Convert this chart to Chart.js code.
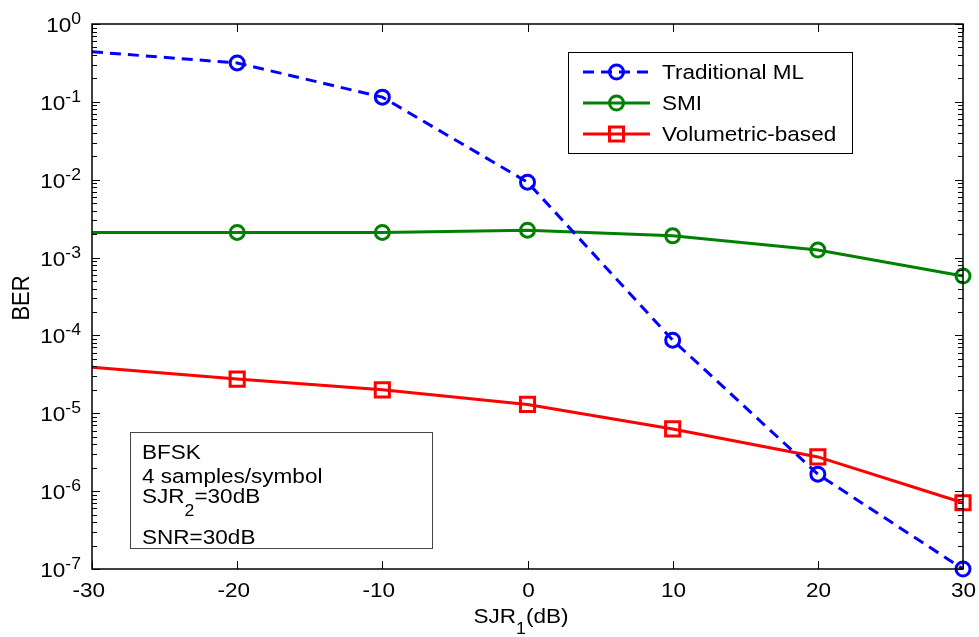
<!DOCTYPE html>
<html>
<head>
<meta charset="utf-8">
<script src="https://cdn.jsdelivr.net/npm/chart.js@4/dist/chart.umd.min.js"></script>
<style>
  html, body { margin: 0; padding: 0; background: #fff; }
  #wrap { width: 979px; height: 637px; }
</style>
</head>
<body>
<div id="wrap"><canvas id="berChart" width="979" height="637"></canvas></div>
<script>
// ============================
// Data
// ============================
const sjrValues = [-30, -20, -10, 0, 10, 20, 30];
const traditionalML = [0.44, 0.316, 0.115, 0.0093, 8.7e-5, 1.65e-6, 1.0e-7];
const smiBER = [2.1e-3, 2.1e-3, 2.1e-3, 2.25e-3, 1.9e-3, 1.25e-3, 5.8e-4];
const volumetricBER = [3.9e-5, 2.75e-5, 2.0e-5, 1.3e-5, 6.3e-6, 2.75e-6, 7.1e-7];

const seriesLabels = ["Traditional ML", "SMI", "Volumetric-based"];
const xTicks = [-30, -20, -10, 0, 10, 20, 30];
const yExponents = [0, -1, -2, -3, -4, -5, -6, -7];
const noteLines = ["BFSK", "4 samples/symbol", "SJR|2|=30dB", "SNR=30dB"];

// text in the source image is stretched horizontally
const SX = 1.1;
const FS = 20.5;
const FS_SMALL = 16;
const FONT = '"Liberation Sans", Arial, sans-serif';
const markerRadius = [0, 7, 7, 7, 7, 7, 7];
const squareRadius = [0, 10, 10, 10, 10, 10, 10];

const toPoints = vals => vals.map((v, i) => ({ x: sjrValues[i], y: v }));

// ============================
// Stretched text helpers
// ============================
function richWidth(ctx, segs) {
  let w = 0;
  segs.forEach(s => {
    ctx.font = `${s.size}px ${FONT}`;
    w += ctx.measureText(s.t).width * SX;
  });
  return w;
}

function drawRich(ctx, segs, x, y, align) {
  const total = richWidth(ctx, segs);
  let left = x;
  if (align === "center") left = x - total / 2;
  if (align === "right") left = x - total;
  segs.forEach(s => {
    ctx.font = `${s.size}px ${FONT}`;
    const w = ctx.measureText(s.t).width * SX;
    ctx.save();
    ctx.translate(left, y + (s.dy || 0));
    ctx.scale(SX, 1);
    ctx.textAlign = "left";
    ctx.textBaseline = "alphabetic";
    ctx.fillStyle = "#000";
    ctx.fillText(s.t, 0, 0);
    ctx.restore();
    left += w;
  });
}

// "A|b|C" -> A, subscript b, C
function parseSub(str, size, subSize, subDy) {
  return str.split("|").map((t, i) =>
    i % 2 === 1 ? { t, size: subSize, dy: subDy } : { t, size });
}

// ============================
// Axes, ticks, legend, note box
// ============================
const matlabAxes = {
  id: "matlabAxes",
  afterDraw(chart) {
    const { ctx, chartArea: a, scales } = chart;
    const xs = scales.x, ys = scales.y;
    ctx.save();

    // frame
    ctx.strokeStyle = "#000";
    ctx.lineWidth = 1.5;
    ctx.strokeRect(a.left, a.top, a.right - a.left, a.bottom - a.top);

    // x ticks (inside, bottom and top)
    ctx.lineWidth = 1;
    xTicks.forEach(v => {
      const px = Math.round(xs.getPixelForValue(v)) + 0.5;
      ctx.beginPath();
      ctx.moveTo(px, a.bottom); ctx.lineTo(px, a.bottom - 8);
      ctx.moveTo(px, a.top); ctx.lineTo(px, a.top + 8);
      ctx.stroke();
      let cx = px;
      if (v < 0) {
        ctx.font = `${FS}px ${FONT}`;
        cx -= ctx.measureText("-").width * SX / 2;
      }
      drawRich(ctx, [{ t: String(v), size: FS }], cx, 597, "center");
    });

    // y ticks: major and minor, both sides
    yExponents.forEach(e => {
      const py = Math.round(ys.getPixelForValue(Math.pow(10, e))) + 0.5;
      ctx.beginPath();
      ctx.moveTo(a.left, py); ctx.lineTo(a.left + 8, py);
      ctx.moveTo(a.right, py); ctx.lineTo(a.right - 8, py);
      ctx.stroke();
      drawRich(ctx, [{ t: "10", size: FS }, { t: String(e), size: FS_SMALL, dy: -8 }],
        81, py + 7, "right");
      if (e > -7) {
        for (let m = 2; m <= 9; m++) {
          const pm = Math.round(ys.getPixelForValue(m * Math.pow(10, e - 1))) + 0.5;
          ctx.beginPath();
          ctx.moveTo(a.left, pm); ctx.lineTo(a.left + 5, pm);
          ctx.moveTo(a.right, pm); ctx.lineTo(a.right - 5, pm);
          ctx.stroke();
        }
      }
    });

    // axis titles
    drawRich(ctx, parseSub("SJR|1|(dB)", FS, FS_SMALL, 11), 521, 623, "center");
    ctx.save();
    ctx.translate(29, 298);
    ctx.rotate(-Math.PI / 2);
    ctx.scale(1, SX);
    ctx.font = `22px ${FONT}`;
    ctx.textAlign = "center";
    ctx.textBaseline = "alphabetic";
    ctx.fillStyle = "#000";
    ctx.fillText("BER", 0, 0);
    ctx.restore();

    // legend
    ctx.fillStyle = "#fff";
    ctx.fillRect(568, 52, 284, 101);
    ctx.strokeStyle = "#000";
    ctx.lineWidth = 1;
    ctx.strokeRect(568.5, 52.5, 284, 101);
    chart.data.datasets.forEach((ds, i) => {
      const cy = 72 + i * 31;
      ctx.save();
      ctx.strokeStyle = ds.borderColor;
      ctx.lineWidth = 3;
      ctx.setLineDash(ds.borderDash || []);
      ctx.beginPath();
      ctx.moveTo(583, cy); ctx.lineTo(650, cy);
      ctx.stroke();
      ctx.setLineDash([]);
      ctx.lineWidth = 3;
      ctx.beginPath();
      if (ds.pointStyle === "rect") {
        ctx.rect(616.5 - 7, cy - 7, 14, 14);
      } else {
        ctx.arc(616.5, cy, 7, 0, Math.PI * 2);
      }
      ctx.stroke();
      ctx.restore();
      drawRich(ctx, [{ t: seriesLabels[i], size: FS }], 662, cy + 7, "left");
    });

    // note box
    ctx.fillStyle = "#fff";
    ctx.fillRect(130, 432, 302, 116);
    ctx.strokeStyle = "#444";
    ctx.strokeRect(130.5, 432.5, 302, 116);
    const baselines = [459, 483, 503, 544];
    noteLines.forEach((line, i) => {
      drawRich(ctx, parseSub(line, FS, FS_SMALL, 13), 142, baselines[i], "left");
    });

    ctx.restore();
  }
};

// ============================
// Chart
// ============================
const ctx = document.getElementById("berChart").getContext("2d");

new Chart(ctx, {
  type: "line",
  data: {
    datasets: [
      {
        label: seriesLabels[0],
        data: toPoints(traditionalML),
        borderColor: "#0000FF",
        borderWidth: 3,
        borderDash: [11, 7],
        pointStyle: "circle",
        pointRadius: markerRadius,
        pointBorderWidth: 3,
        pointBackgroundColor: "rgba(0,0,0,0)",
        pointBorderColor: "#0000FF",
        tension: 0,
        fill: false,
        clip: false
      },
      {
        label: seriesLabels[1],
        data: toPoints(smiBER),
        borderColor: "#008000",
        borderWidth: 3,
        pointStyle: "circle",
        pointRadius: markerRadius,
        pointBorderWidth: 3,
        pointBackgroundColor: "rgba(0,0,0,0)",
        pointBorderColor: "#008000",
        tension: 0,
        fill: false,
        clip: false
      },
      {
        label: seriesLabels[2],
        data: toPoints(volumetricBER),
        borderColor: "#FF0000",
        borderWidth: 3,
        pointStyle: "rect",
        pointRadius: squareRadius,
        pointBorderWidth: 3,
        pointBackgroundColor: "rgba(0,0,0,0)",
        pointBorderColor: "#FF0000",
        tension: 0,
        fill: false,
        clip: false
      }
    ]
  },
  options: {
    responsive: false,
    animation: false,
    devicePixelRatio: 1,
    layout: { padding: { left: 92, top: 24, right: 16, bottom: 68 } },
    scales: {
      x: { type: "linear", min: -30, max: 30, display: false },
      y: { type: "logarithmic", min: 1e-7, max: 1, display: false }
    },
    plugins: {
      legend: { display: false },
      tooltip: { enabled: false }
    }
  },
  plugins: [matlabAxes]
});
</script>
</body>
</html>
